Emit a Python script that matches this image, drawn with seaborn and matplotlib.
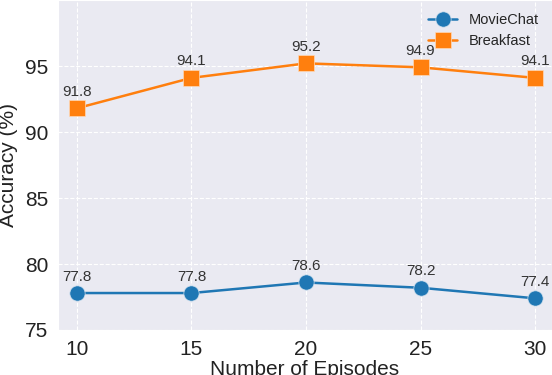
import numpy as np
import pandas as pd
import matplotlib
matplotlib.use("Agg")
import matplotlib.pyplot as plt
import seaborn as sns

# data
episodes = [10, 15, 20, 25, 30]
moviechat = [77.8, 77.8, 78.6, 78.2, 77.4]
breakfast = [91.8, 94.1, 95.2, 94.9, 94.1]

sns.set_style("darkgrid", {"grid.linestyle": "--", "grid.color": "white"})
plt.rcParams['font.family'] = ['Liberation Sans', 'DejaVu Sans']

fig = plt.figure(figsize=(5.52, 3.75), dpi=100)
ax = fig.add_axes([0.105, 0.12, 0.895, 0.88])

sns.lineplot(x=episodes, y=moviechat, marker='o', markersize=11, linewidth=1.8,
             color='#1f77b4', label='MovieChat', ax=ax,
             markeredgewidth=0.5, markeredgecolor='#cfe0ee')
sns.lineplot(x=episodes, y=breakfast, marker='s', markersize=11, linewidth=1.8,
             color='#ff7f0e', label='Breakfast', ax=ax,
             markeredgewidth=0.5, markeredgecolor='#ffd9b8')

for xs, ys in [(episodes, moviechat), (episodes, breakfast)]:
    for x, y in zip(xs, ys):
        ax.annotate(f'{y:.1f}', (x, y), textcoords='offset points', xytext=(0, 9),
                    ha='center', fontsize=11, color='#333333')

ax.set_xlim(9.17, 30.74)
ax.set_ylim(75, 100)
ax.set_xticks(episodes)
ax.set_yticks([75, 80, 85, 90, 95])
ax.tick_params(labelsize=15, colors='#222222')
ax.set_xlabel('Number of Episodes', fontsize=15, color='#222222', labelpad=1)
ax.set_ylabel('Accuracy (%)', fontsize=15, color='#222222', labelpad=5)

ax.legend(loc='upper right', bbox_to_anchor=(1.0, 1.0), frameon=False, fontsize=10.5)

fig.savefig('out.png', dpi=100)
